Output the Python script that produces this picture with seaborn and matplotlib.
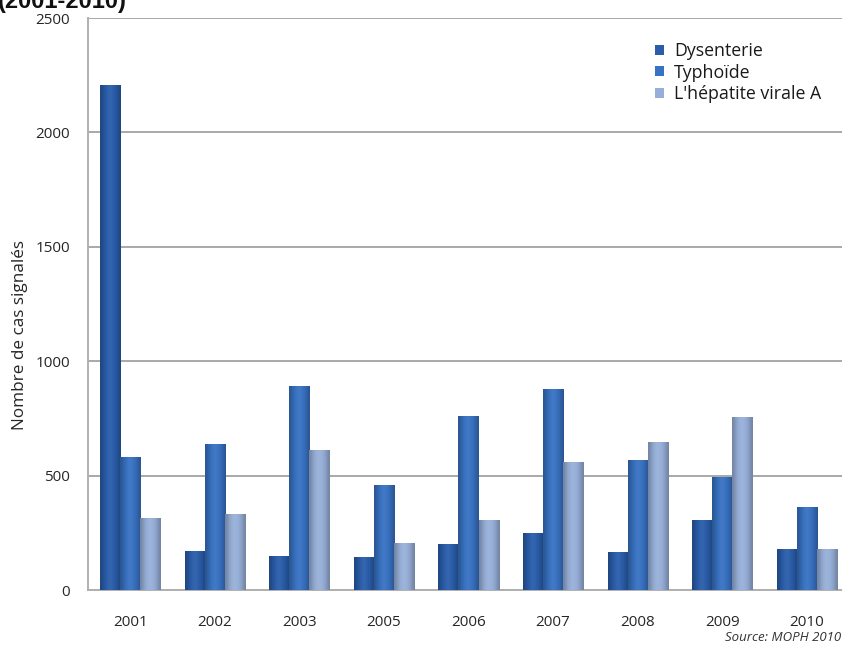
import numpy as np
import pandas as pd
import matplotlib
matplotlib.use("Agg")
import matplotlib.pyplot as plt
import seaborn as sns
from matplotlib.colors import to_rgb
from matplotlib.patches import Patch

# Reported cases per year and disease
years = ["2001", "2002", "2003", "2005", "2006", "2007", "2008", "2009", "2010"]
dysenterie = [2205, 170, 150, 145, 200, 250, 165, 305, 180]
typhoide = [580, 640, 890, 460, 760, 880, 568, 492, 364]
hepatite_a = [315, 330, 610, 205, 305, 558, 647, 754, 179]
series_names = ["Dysenterie", "Typhoïde", "L'hépatite virale A"]
series_colors = ["#2a5daa", "#3872c2", "#97afd8"]

df = pd.DataFrame({
    "Année": years * 3,
    "Cas": dysenterie + typhoide + hepatite_a,
    "Maladie": [s for s in series_names for _ in years],
})

sns.set_theme(style="white")
plt.rcParams["font.family"] = ["Open Sans", "DejaVu Sans"]

fig = plt.figure(figsize=(8.42, 6.45), dpi=100)
ax = fig.add_axes([88 / 842, 1 - 590 / 645, (849 - 88) / 842, (590 - 18) / 645])

sns.barplot(data=df, x="Année", y="Cas", hue="Maladie", order=years,
            hue_order=series_names, palette=series_colors, width=0.71,
            gap=0, dodge=True, saturation=1, legend=False, ax=ax, zorder=3)

# Soft cylinder-like horizontal shading on each bar
def shade_bar(patch, base):
    rgb = np.array(to_rgb(base))
    prof = np.array([0.76, 0.88, 0.97, 1.02, 1.04, 1.01, 0.96, 0.88, 0.76])
    cols = []
    for f in prof:
        if f <= 1:
            c = rgb * f
        else:
            c = rgb + (1 - rgb) * (f - 1) * 1.5
        cols.append(np.clip(c, 0, 1))
    grad = np.array(cols)[np.newaxis, :, :]
    x0, y0 = patch.get_x(), patch.get_y()
    w, h = patch.get_width(), patch.get_height()
    im = ax.imshow(grad, extent=[x0, x0 + w, y0, y0 + h], aspect="auto",
                   interpolation="bicubic", zorder=3)
    im.set_clip_path(patch)
    patch.set_facecolor("none")
    patch.set_edgecolor("none")

n = len(years)
for i, patch in enumerate(ax.patches[:3 * n]):
    shade_bar(patch, series_colors[i // n])

ax.set_aspect("auto")
ax.set_xlim(-0.5, n - 0.5)
ax.set_ylim(0, 2500)
ax.set_yticks([0, 500, 1000, 1500, 2000, 2500])
ax.yaxis.grid(True, color="#a8a8a8", linewidth=1.4, zorder=0)
ax.set_axisbelow(True)

for side in ["top", "right"]:
    ax.spines[side].set_visible(False)
for side in ["left", "bottom"]:
    ax.spines[side].set_color("#b0b0b0")
    ax.spines[side].set_linewidth(1.4)

ax.set_xticks(range(n))
ax.set_xticks(np.arange(-0.5, n, 1.0), minor=True)
ax.tick_params(axis="x", which="major", length=0, pad=18, labelsize=11,
               labelcolor="#262626")
ax.tick_params(axis="x", which="minor", length=5, width=1.2, color="#b0b0b0",
               direction="out")
ax.tick_params(axis="y", length=5, width=1.2, color="#b0b0b0", direction="out",
               pad=8, labelsize=11, labelcolor="#262626")
ax.set_xlabel("")
ax.set_ylabel("")

fig.text(20 / 842, 1 - 335 / 645, "Nombre de cas signalés", rotation=90,
         ha="center", va="center", fontsize=12.3, color="#262626")

fig.text(-0.002, 1 - 8 / 645, "(2001-2010)", ha="left", va="baseline",
         fontsize=17, fontweight="bold", color="#111111",
         family=["Liberation Sans", "DejaVu Sans"])

fig.text(841 / 842, 1 - 641 / 645, "Source: MOPH 2010", ha="right",
         va="baseline", fontsize=9.5, style="italic", color="#333333")

handles = [Patch(facecolor=c, edgecolor="none") for c in series_colors]
ax.legend(handles, series_names, loc="upper left",
          bbox_to_anchor=(655 / 842, 1 - 42 / 645),
          bbox_transform=fig.transFigure, frameon=False, borderpad=0,
          borderaxespad=0, handlelength=0.48, handleheight=0.48,
          handletextpad=0.6, labelspacing=0.2, fontsize=12.8,
          labelcolor="#1a1a1a")

fig.savefig("out.png", dpi=100)
